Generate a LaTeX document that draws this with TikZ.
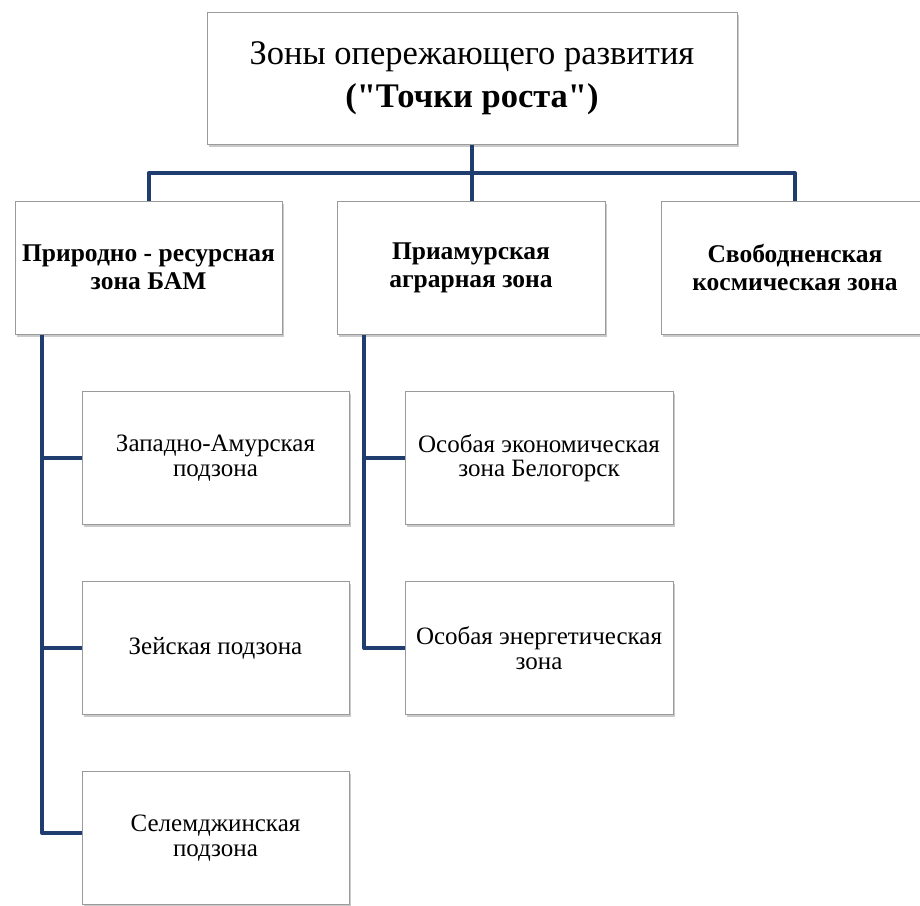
\documentclass[tikz,border=0pt]{standalone}
\usepackage{fontspec}
\setmainfont{Liberation Serif}[Ligatures=TeXOff]
\usetikzlibrary{shadows}
\definecolor{navy}{HTML}{1F3D6E}
\definecolor{bord}{HTML}{9A9A9A}
\tikzset{
  zbox/.style={draw=bord, line width=1pt, fill=white, rectangle, align=center, inner sep=2pt,
    drop shadow={shadow xshift=1.5pt, shadow yshift=-2.5pt, opacity=0.35, fill=black!60}},
  conn/.style={draw=navy, line width=4pt, line join=round},
  midf/.style={font=\fontsize{25.5}{28}\selectfont\bfseries},
  subf/.style={font=\fontsize{25}{24.5}\selectfont},
}
\begin{document}
\begin{tikzpicture}[x=1pt,y=-1pt]
\useasboundingbox (0,0) rectangle (920,905);
\node[zbox, minimum width=530pt, minimum height=132pt, font=\fontsize{34.5}{38}\selectfont] (top) at (472,78.5)
  {Зоны опережающего развития\\[5pt]\textbf{("Точки роста")}};
\node[zbox, minimum width=267pt, minimum height=133pt, midf] (b1) at (148.5,267.5)
  {Природно - ресурсная\\зона БАМ};
\node[zbox, minimum width=268pt, minimum height=133pt, midf] (b2) at (471,267.5)
  {Приамурская\\аграрная зона};
\node[zbox, minimum width=268pt, minimum height=133pt, midf] (b3) at (795,267.5)
  {Свободненская\\космическая зона};
\node[zbox, minimum width=267pt, minimum height=133pt, subf] (s1) at (215.5,458)
  {Западно-Амурская\\подзона};
\node[zbox, minimum width=267pt, minimum height=133pt, subf] (s2) at (215.5,648)
  {Зейская подзона};
\node[zbox, minimum width=267pt, minimum height=133pt, subf] (s3) at (215.5,838)
  {Селемджинская\\подзона};
\node[zbox, minimum width=268pt, minimum height=133pt, subf] (t1) at (539,458)
  {Особая экономическая\\зона Белогорск};
\node[zbox, minimum width=268pt, minimum height=133pt, subf] (t2) at (539,648)
  {Особая энергетическая\\зона};
\coordinate (j) at (472,173);
\coordinate (c1) at (42,335);
\coordinate (c2) at (364,335);
\draw[conn] (top.south) -- (j);
\draw[conn] (b1.north) |- (j) -| (b3.north);
\draw[conn] (j) -- (j |- b2.north);
\draw[conn] (c1) |- ([yshift=5pt]s3.west);
\draw[conn] (s1.west) -- (s1.west -| c1);
\draw[conn] (s2.west) -- (s2.west -| c1);
\draw[conn] (c2) |- (t2.west);
\draw[conn] (t1.west) -- (t1.west -| c2);
\end{tikzpicture}
\end{document}
